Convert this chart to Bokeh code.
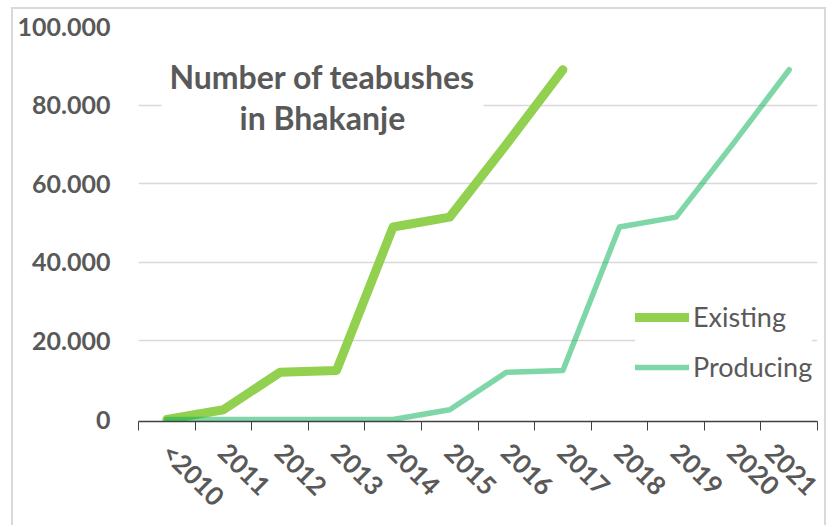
import math
from bokeh.plotting import figure
from bokeh.models import Range1d, FixedTicker, Legend, LegendItem, Label
from bokeh.embed import file_html
from bokeh.resources import INLINE

categories = ["<2010", "2011", "2012", "2013", "2014", "2015",
              "2016", "2017", "2018", "2019", "2020", "2021"]
existing = [0, 2500, 12000, 12500, 49000, 51500, 70000, 89000]
producing = [0, 0, 0, 0, 0, 2500, 12000, 12500, 49000, 51500, 70000, 89000]
y_ticks = [0, 20000, 40000, 60000, 80000, 100000]
y_tick_labels = ["0", "20.000", "40.000", "60.000", "80.000", "100.000"]
title_text = "Number of teabushes\nin Bhakanje"
series_names = ["Existing", "Producing"]

FONT = "Lato"
TXT = "#595959"

x_centers = [i + 0.5 for i in range(len(categories))]
x_bounds = list(range(len(categories) + 1))

p = figure(width=815, height=518,
           x_range=Range1d(0, len(categories)), y_range=Range1d(-500, 100000),
           output_backend="svg", toolbar_location=None,
           min_border_left=125, min_border_right=11,
           min_border_top=17, min_border_bottom=106)
p.margin = (7, 0, 0, 11)
p.styles = {"border-left": "2px solid #d9d9d9",
            "border-top": "2px solid #d9d9d9",
            "border-right": "2px solid #d9d9d9"}
p.outline_line_color = None
p.background_fill_color = "white"
p.border_fill_color = "white"

# x axis
p.xaxis.ticker = FixedTicker(ticks=x_centers, minor_ticks=x_bounds)
p.xaxis.major_label_overrides = {c: lab for c, lab in zip(x_centers, categories)}
p.xaxis.major_tick_out = 0
p.xaxis.major_tick_in = 0
p.xaxis.minor_tick_out = 9
p.xaxis.minor_tick_in = 0
p.xaxis.minor_tick_line_color = "#404040"
p.xaxis.axis_line_color = "#404040"
p.xaxis.axis_line_width = 1.5
p.xaxis.major_label_orientation = -math.pi / 4
p.xaxis.major_label_text_font = FONT
p.xaxis.major_label_text_font_size = "26px"
p.xaxis.major_label_text_font_style = "bold"
p.xaxis.major_label_text_color = TXT
p.xaxis.major_label_standoff = 17

# y axis
p.yaxis.ticker = FixedTicker(ticks=y_ticks)
p.yaxis.major_label_overrides = {t: lab for t, lab in zip(y_ticks, y_tick_labels)}
p.yaxis.axis_line_color = None
p.yaxis.major_tick_line_color = None
p.yaxis.minor_tick_line_color = None
p.yaxis.major_tick_out = 0
p.yaxis.major_tick_in = 0
p.yaxis.minor_tick_out = 0
p.yaxis.major_label_text_font = FONT
p.yaxis.major_label_text_font_size = "25px"
p.yaxis.major_label_text_font_style = "bold"
p.yaxis.major_label_text_color = TXT
p.yaxis.major_label_standoff = 28

p.xgrid.grid_line_color = None
p.ygrid.ticker = FixedTicker(ticks=[t for t in y_ticks if t > 0])
p.ygrid.grid_line_color = "#d9d9d9"
p.ygrid.grid_line_width = 1.5

r_exist = p.line(x_centers[:len(existing)], existing, line_color="#92D050",
                 line_width=9, line_cap="round", line_join="round")
r_prod = p.line(x_centers[:len(producing)], producing, line_color="#00B050",
                line_alpha=0.5, line_width=5.5, line_cap="round", line_join="round")

title = Label(x=3.25, y=82000, text=title_text, text_align="center",
              text_baseline="middle", text_font=FONT, text_font_size="32px",
              text_font_style="bold", text_color=TXT, text_line_height=1.05,
              background_fill_color="white", padding=8)
p.add_layout(title)

legend = Legend(items=[LegendItem(label=series_names[0], renderers=[r_exist]),
                       LegendItem(label=series_names[1], renderers=[r_prod])],
                location=(497, 38), orientation="vertical",
                glyph_width=54, glyph_height=24, label_height=24,
                label_standoff=4, spacing=17, padding=12, margin=0,
                border_line_color=None, background_fill_color="white",
                background_fill_alpha=1.0,
                label_text_font=FONT, label_text_font_size="27px",
                label_text_color=TXT)
p.add_layout(legend)

open("out.html", "w").write(file_html(p, INLINE))
